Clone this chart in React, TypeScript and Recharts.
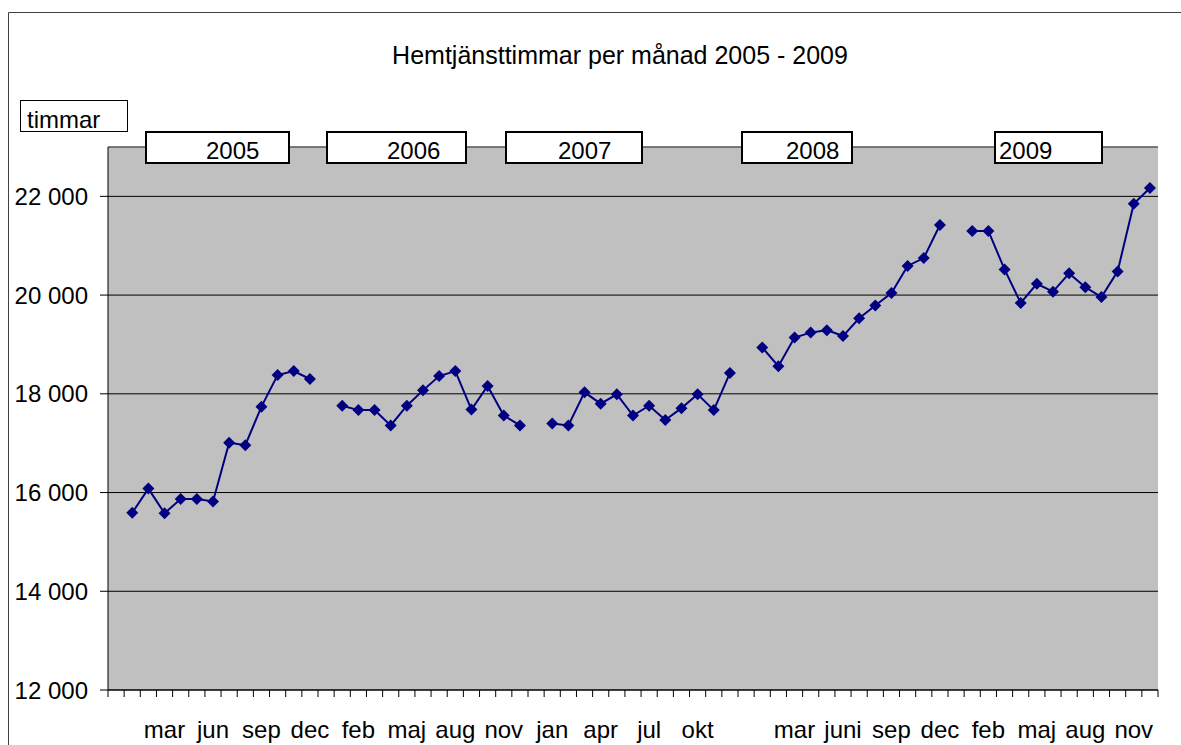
import React from "react";
import {
  LineChart,
  Line,
  XAxis,
  YAxis,
  CartesianGrid,
  ReferenceLine,
} from "recharts";

const FONT = '"Liberation Sans", Arial, sans-serif';

const YEARS = ["2005", "2006", "2007", "2008", "2009"];
const MONTHS = ["jan", "feb", "mar", "apr", "maj", "jun", "jul", "aug", "sep", "okt", "nov", "dec"];
const MONTHS_2008 = ["jan", "feb", "mar", "apr", "maj", "juni", "jul", "aug", "sep", "okt", "nov", "dec"];

// hemtjänsttimmar per månad
const H2005 = [15590, 16080, 15580, 15870, 15870, 15820, 17010, 16960, 17740, 18380, 18460, 18300];
const H2006 = [17760, 17670, 17670, 17360, 17760, 18070, 18360, 18460, 17680, 18160, 17560, 17360];
const H2007 = [17400, 17360, 18030, 17800, 17990, 17560, 17760, 17470, 17710, 17990, 17670, 18420];
const H2008 = [18940, 18560, 19140, 19240, 19290, 19170, 19530, 19790, 20040, 20590, 20750, 21420];
const H2009 = [21300, 21300, 20520, 19840, 20230, 20070, 20440, 20160, 19960, 20480, 21850, 22170];

const Y_TICKS = [12000, 14000, 16000, 18000, 20000, 22000];
const Y_DOMAIN = [12000, 23000];

// one empty category before each year, as in the original sheet
const buildData = () => {
  const series = [H2005, H2006, H2007, H2008, H2009];
  const rows: { key: string; label: string; timmar: number | null }[] = [];
  YEARS.forEach((year, yi) => {
    rows.push({ key: `gap-${year}`, label: "", timmar: null });
    const months = year === "2008" ? MONTHS_2008 : MONTHS;
    months.forEach((m, mi) => {
      rows.push({ key: `${year}-${m}`, label: m, timmar: series[yi][mi] });
    });
  });
  return rows;
};

const data = buildData();

const W = 1181;
const H = 745;
const PLOT_LEFT = 108;
const PLOT_RIGHT = 1158;
const BAND = (PLOT_RIGHT - PLOT_LEFT) / data.length;

const YEAR_BOXES = [
  { year: "2005", x1: 145, x2: 290, tx: 206 },
  { year: "2006", x1: 326, x2: 467, tx: 387 },
  { year: "2007", x1: 505, x2: 643, tx: 558 },
  { year: "2008", x1: 741, x2: 853, tx: 786 },
  { year: "2009", x1: 994, x2: 1103, tx: 999 },
];

const fmt = (v: number) => String(v).replace(/\B(?=(\d{3})+(?!\d))/g, " ");

function MonthTick(props: any) {
  const { x, y, index } = props;
  const row = data[index];
  const last = index === data.length - 1;
  return (
    <g>
      <line x1={x - BAND / 2} x2={x - BAND / 2} y1={y} y2={y + 7} stroke="#000" />
      {last && <line x1={x + BAND / 2} x2={x + BAND / 2} y1={y} y2={y + 7} stroke="#000" />}
      {index % 3 === 0 && row && row.label && (
        <text x={x} y={y + 48} textAnchor="middle" fontSize={24} fontFamily={FONT} fill="#000">
          {row.label}
        </text>
      )}
    </g>
  );
}

function Diamond(props: any) {
  const { cx, cy, index } = props;
  if (cy == null || Number.isNaN(cy)) return <g key={`d-${index}`} />;
  const r = 6;
  return (
    <polygon
      key={`d-${index}`}
      points={`${cx},${cy - r} ${cx + r},${cy} ${cx},${cy + r} ${cx - r},${cy}`}
      fill="#000080"
    />
  );
}

export default function App() {
  return (
    <div
      style={{
        position: "fixed",
        top: 0,
        left: 0,
        width: W,
        height: H,
        overflow: "hidden",
        background: "#fff",
        fontFamily: FONT,
      }}
    >
      <LineChart
        width={W}
        height={H}
        data={data}
        margin={{ top: 147, right: W - PLOT_RIGHT, bottom: 0, left: 0 }}
      >
        <CartesianGrid vertical={false} stroke="#000" fill="#C0C0C0" fillOpacity={1} />
        <XAxis
          dataKey="key"
          interval={0}
          height={55}
          padding={{ left: BAND / 2, right: BAND / 2 }}
          tickLine={false}
          tickSize={0}
          tickMargin={0}
          axisLine={{ stroke: "#000" }}
          tick={<MonthTick />}
        />
        <YAxis
          domain={Y_DOMAIN}
          ticks={Y_TICKS}
          width={PLOT_LEFT}
          tickSize={8}
          tickMargin={12}
          tickFormatter={fmt}
          tick={{ fontSize: 24, fill: "#000", fontFamily: FONT }}
          axisLine={{ stroke: "#000" }}
          tickLine={{ stroke: "#000" }}
        />
        <YAxis
          yAxisId="right"
          orientation="right"
          domain={Y_DOMAIN}
          ticks={[]}
          width={0}
          tick={false}
          tickLine={false}
          axisLine={{ stroke: "#808080" }}
        />
        <ReferenceLine y={23000} stroke="#808080" />
        <Line
          type="linear"
          dataKey="timmar"
          stroke="#000080"
          strokeWidth={2}
          dot={<Diamond />}
          activeDot={false}
          connectNulls={false}
          isAnimationActive={false}
        />
      </LineChart>

      <svg
        width={W}
        height={H}
        style={{ position: "absolute", top: 0, left: 0, pointerEvents: "none" }}
        fontFamily={FONT}
      >
        <line x1={8.5} x2={W} y1={12.5} y2={12.5} stroke="#404040" />
        <line x1={8.5} x2={8.5} y1={12.5} y2={H} stroke="#404040" />
        <text x={620} y={64} textAnchor="middle" fontSize={25} fill="#000">
          Hemtjänsttimmar per månad 2005 - 2009
        </text>
        <rect x={20.5} y={100.5} width={107} height={31} fill="#fff" stroke="#000" />
        <text x={27} y={128} fontSize={24} fill="#000">
          timmar
        </text>
        {YEAR_BOXES.map((b) => (
          <g key={b.year}>
            <rect x={b.x1 + 1} y={132} width={b.x2 - b.x1 - 2} height={31} fill="#fff" stroke="#000" strokeWidth={2} />
            <text x={b.tx} y={159} fontSize={24} fill="#000">
              {b.year}
            </text>
          </g>
        ))}
      </svg>
    </div>
  );
}
